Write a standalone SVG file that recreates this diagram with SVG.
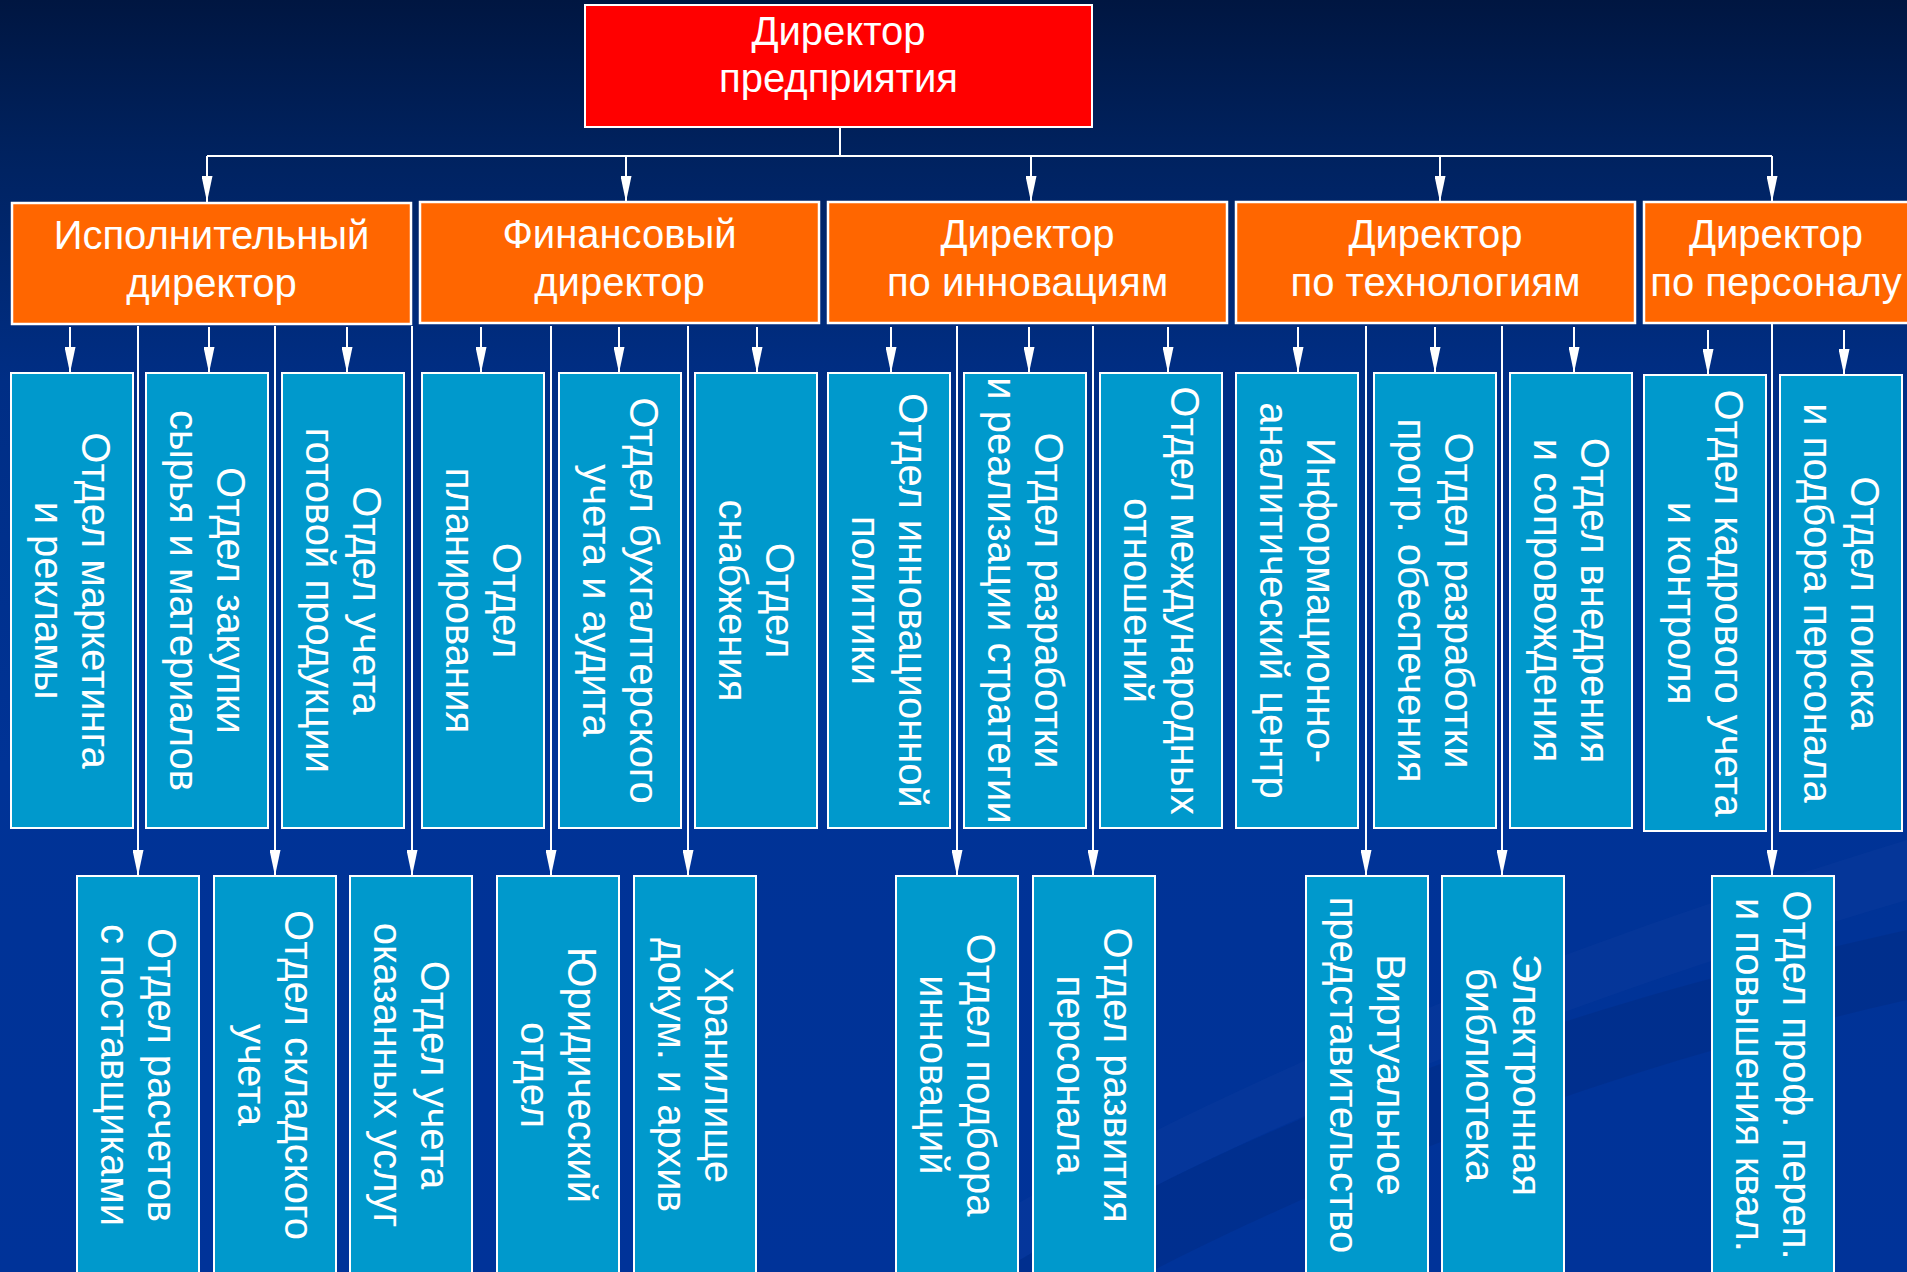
<svg xmlns="http://www.w3.org/2000/svg" width="1907" height="1272" viewBox="0 0 1907 1272">
<defs>
<linearGradient id="bg" x1="0" y1="0" x2="0" y2="1">
<stop offset="0" stop-color="#001641"/>
<stop offset="0.12" stop-color="#00225F"/>
<stop offset="0.3" stop-color="#002E85"/>
<stop offset="0.6" stop-color="#003396"/>
<stop offset="1" stop-color="#003399"/>
</linearGradient>
<marker id="ah" markerUnits="userSpaceOnUse" markerWidth="26" markerHeight="11" refX="26" refY="5.5" orient="auto">
<path d="M0,0 L26,5.5 L0,11 z" fill="#ffffff"/>
</marker>
<style>
.top{fill:#FF0000;stroke:#ffffff;stroke-width:2}
.dir{fill:#FF6600;stroke:#ffffff;stroke-width:2.5}
.dep{fill:#0099CC;stroke:#ffffff;stroke-width:2}
.t{font-family:"Liberation Sans",Arial,sans-serif;fill:#ffffff;font-size:40px;text-anchor:middle}
.v{font-family:"Liberation Sans",Arial,sans-serif;fill:#ffffff;font-size:40px;text-anchor:middle}
.ln{stroke:#ffffff;stroke-width:2;fill:none}
.ar{stroke:#ffffff;stroke-width:2;fill:none;marker-end:url(#ah)}
</style>
</defs>
<rect x="0" y="0" width="1907" height="1272" fill="url(#bg)"/>
<path d="M900,1272 C1150,1120 1450,980 1907,840 L1907,900 C1500,1020 1200,1150 1000,1272 z" fill="#1a4aa8" opacity="0.18"/>
<path d="M1000,1272 C1250,1120 1550,1010 1907,930 L1907,1000 C1600,1070 1350,1170 1150,1272 z" fill="#002a80" opacity="0.4"/>

<g id="connectors">
<path class="ln" d="M840,127 V156 M207,156 H1772"/>
<path class="ar" d="M207,156 V202"/>
<path class="ar" d="M626,156 V202"/>
<path class="ar" d="M1031,156 V202"/>
<path class="ar" d="M1440,156 V202"/>
<path class="ar" d="M1772,156 V202"/>
<path class="ar" d="M70,327 V373"/>
<path class="ar" d="M209,327 V373"/>
<path class="ar" d="M347,327 V373"/>
<path class="ar" d="M481,327 V373"/>
<path class="ar" d="M619,327 V373"/>
<path class="ar" d="M757,327 V373"/>
<path class="ar" d="M891,327 V373"/>
<path class="ar" d="M1029,327 V373"/>
<path class="ar" d="M1168,327 V373"/>
<path class="ar" d="M1298,327 V373"/>
<path class="ar" d="M1435,327 V373"/>
<path class="ar" d="M1574,327 V373"/>
<path class="ar" d="M1708,330 V375"/>
<path class="ar" d="M1844,330 V375"/>
<path class="ar" d="M138,326 V876"/>
<path class="ar" d="M275,326 V876"/>
<path class="ar" d="M412,326 V876"/>
<path class="ar" d="M551,326 V876"/>
<path class="ar" d="M688,326 V876"/>
<path class="ar" d="M957,326 V876"/>
<path class="ar" d="M1093,326 V876"/>
<path class="ar" d="M1366,326 V876"/>
<path class="ar" d="M1502,326 V876"/>
<path class="ar" d="M1772,323 V876"/>
</g>

<g id="director">
<rect class="top" x="585" y="5" width="507" height="122"/>
<text class="t" x="838.5" y="45">Директор</text>
<text class="t" x="838.5" y="92">предприятия</text>
</g>

<g id="exec-director">
<rect class="dir" x="12" y="203" width="399" height="121"/>
<text class="t" x="211.5" y="249">Исполнительный</text>
<text class="t" x="211.5" y="297">директор</text>
</g>
<g id="fin-director">
<rect class="dir" x="420" y="202" width="399" height="121"/>
<text class="t" x="619.5" y="248">Финансовый</text>
<text class="t" x="619.5" y="296">директор</text>
</g>
<g id="innov-director">
<rect class="dir" x="828" y="202" width="399" height="121"/>
<text class="t" x="1027.5" y="248">Директор</text>
<text class="t" x="1027.5" y="296">по инновациям</text>
</g>
<g id="tech-director">
<rect class="dir" x="1236" y="202" width="399" height="121"/>
<text class="t" x="1435.5" y="248">Директор</text>
<text class="t" x="1435.5" y="296">по технологиям</text>
</g>
<g id="hr-director">
<rect class="dir" x="1644" y="202" width="280" height="121"/>
<text class="t" x="1776" y="248">Директор</text>
<text class="t" x="1776" y="296">по персоналу</text>
</g>

<g id="d1"><rect class="dep" x="11" y="373" width="122" height="455"/>
<g transform="translate(72,600.5) rotate(90)"><text class="v" x="0" y="-10">Отдел маркетинга</text><text class="v" x="0" y="37">и рекламы</text></g></g>
<g id="d2"><rect class="dep" x="146" y="373" width="122" height="455"/>
<g transform="translate(207,600.5) rotate(90)"><text class="v" x="0" y="-10">Отдел закупки</text><text class="v" x="0" y="37">сырья и материалов</text></g></g>
<g id="d3"><rect class="dep" x="282" y="373" width="122" height="455"/>
<g transform="translate(343,600.5) rotate(90)"><text class="v" x="0" y="-10">Отдел учета</text><text class="v" x="0" y="37">готовой продукции</text></g></g>
<g id="d4"><rect class="dep" x="422" y="373" width="122" height="455"/>
<g transform="translate(483,600.5) rotate(90)"><text class="v" x="0" y="-10">Отдел</text><text class="v" x="0" y="37">планирования</text></g></g>
<g id="d5"><rect class="dep" x="559" y="373" width="122" height="455"/>
<g transform="translate(620,600.5) rotate(90)"><text class="v" x="0" y="-10">Отдел бухгалтерского</text><text class="v" x="0" y="37">учета и аудита</text></g></g>
<g id="d6"><rect class="dep" x="695" y="373" width="122" height="455"/>
<g transform="translate(756,600.5) rotate(90)"><text class="v" x="0" y="-10">Отдел</text><text class="v" x="0" y="37">снабжения</text></g></g>
<g id="d7"><rect class="dep" x="828" y="373" width="122" height="455"/>
<g transform="translate(889,600.5) rotate(90)"><text class="v" x="0" y="-10">Отдел инновационной</text><text class="v" x="0" y="37">политики</text></g></g>
<g id="d8"><rect class="dep" x="964" y="373" width="122" height="455"/>
<g transform="translate(1025,600.5) rotate(90)"><text class="v" x="0" y="-10">Отдел разработки</text><text class="v" x="0" y="37">и реализации стратегии</text></g></g>
<g id="d9"><rect class="dep" x="1100" y="373" width="122" height="455"/>
<g transform="translate(1161,600.5) rotate(90)"><text class="v" x="0" y="-10">Отдел международных</text><text class="v" x="0" y="37">отношений</text></g></g>
<g id="d10"><rect class="dep" x="1236" y="373" width="122" height="455"/>
<g transform="translate(1297,600.5) rotate(90)"><text class="v" x="0" y="-10">Информационно-</text><text class="v" x="0" y="37">аналитический центр</text></g></g>
<g id="d11"><rect class="dep" x="1374" y="373" width="122" height="455"/>
<g transform="translate(1435,600.5) rotate(90)"><text class="v" x="0" y="-10">Отдел разработки</text><text class="v" x="0" y="37">прогр. обеспечения</text></g></g>
<g id="d12"><rect class="dep" x="1510" y="373" width="122" height="455"/>
<g transform="translate(1571,600.5) rotate(90)"><text class="v" x="0" y="-10">Отдел внедрения</text><text class="v" x="0" y="37">и сопровождения</text></g></g>
<g id="d13"><rect class="dep" x="1644" y="375" width="122" height="456"/>
<g transform="translate(1705,603) rotate(90)"><text class="v" x="0" y="-10">Отдел кадрового учета</text><text class="v" x="0" y="37">и контроля</text></g></g>
<g id="d14"><rect class="dep" x="1780" y="375" width="122" height="456"/>
<g transform="translate(1841,603) rotate(90)"><text class="v" x="0" y="-10">Отдел поиска</text><text class="v" x="0" y="37">и подбора персонала</text></g></g>

<g id="s1"><rect class="dep" x="77" y="876" width="122" height="402"/>
<g transform="translate(138,1075) rotate(90)"><text class="v" x="0" y="-10">Отдел расчетов</text><text class="v" x="0" y="37">с поставщиками</text></g></g>
<g id="s2"><rect class="dep" x="214" y="876" width="122" height="402"/>
<g transform="translate(275,1075) rotate(90)"><text class="v" x="0" y="-10">Отдел складского</text><text class="v" x="0" y="37">учета</text></g></g>
<g id="s3"><rect class="dep" x="350" y="876" width="122" height="402"/>
<g transform="translate(411,1075) rotate(90)"><text class="v" x="0" y="-10">Отдел учета</text><text class="v" x="0" y="37">оказанных услуг</text></g></g>
<g id="s4"><rect class="dep" x="497" y="876" width="122" height="402"/>
<g transform="translate(558,1075) rotate(90)"><text class="v" x="0" y="-10">Юридический</text><text class="v" x="0" y="37">отдел</text></g></g>
<g id="s5"><rect class="dep" x="634" y="876" width="122" height="402"/>
<g transform="translate(695,1075) rotate(90)"><text class="v" x="0" y="-10">Хранилище</text><text class="v" x="0" y="37">докум. и архив</text></g></g>
<g id="s6"><rect class="dep" x="896" y="876" width="122" height="402"/>
<g transform="translate(957,1075) rotate(90)"><text class="v" x="0" y="-10">Отдел подбора</text><text class="v" x="0" y="37">инноваций</text></g></g>
<g id="s7"><rect class="dep" x="1033" y="876" width="122" height="402"/>
<g transform="translate(1094,1075) rotate(90)"><text class="v" x="0" y="-10">Отдел развития</text><text class="v" x="0" y="37">персонала</text></g></g>
<g id="s8"><rect class="dep" x="1306" y="876" width="122" height="402"/>
<g transform="translate(1367,1075) rotate(90)"><text class="v" x="0" y="-10">Виртуальное</text><text class="v" x="0" y="37">представительство</text></g></g>
<g id="s9"><rect class="dep" x="1442" y="876" width="122" height="402"/>
<g transform="translate(1503,1075) rotate(90)"><text class="v" x="0" y="-10">Электронная</text><text class="v" x="0" y="37">библиотека</text></g></g>
<g id="s10"><rect class="dep" x="1712" y="876" width="122" height="402"/>
<g transform="translate(1773,1075) rotate(90)"><text class="v" x="0" y="-10">Отдел проф. переп.</text><text class="v" x="0" y="37">и повышения квал.</text></g></g>
</svg>
